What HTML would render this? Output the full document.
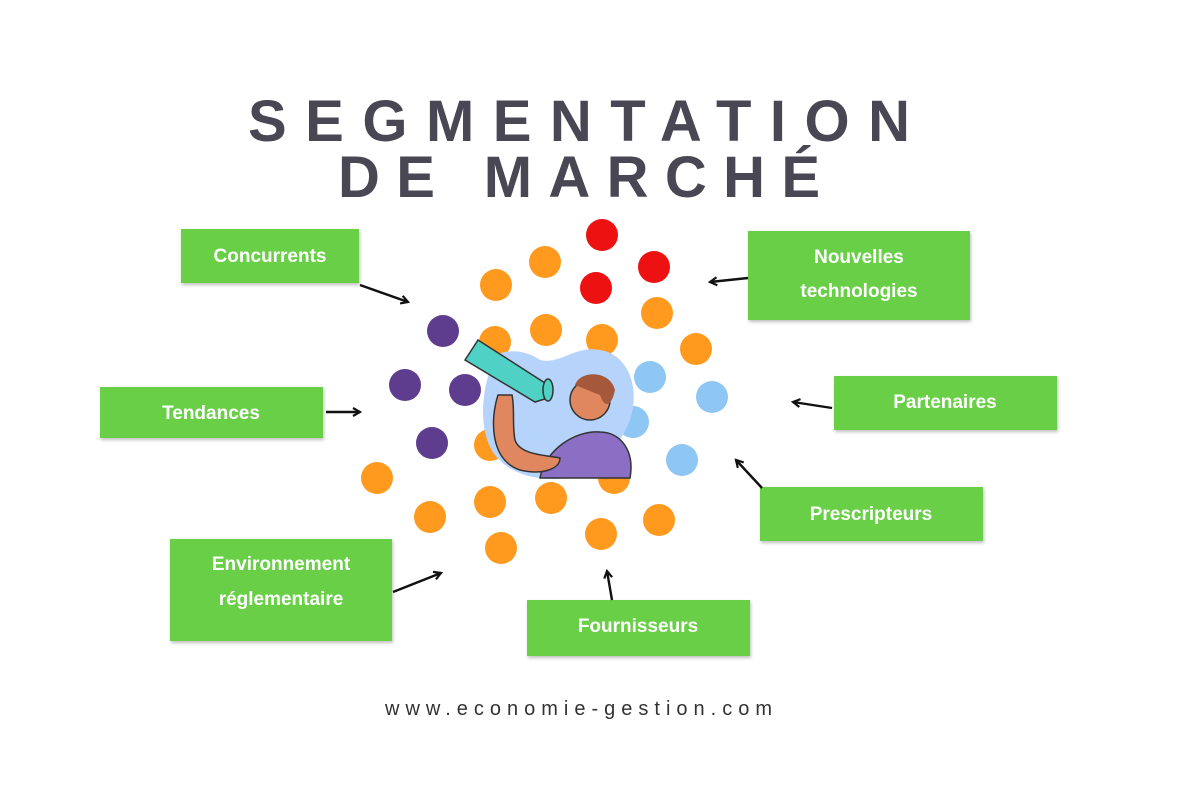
<!DOCTYPE html>
<html><head><meta charset="utf-8"><style>
body{margin:0;background:#fff}
svg{display:block}
.t{font-family:"Liberation Sans",sans-serif;font-weight:bold;fill:#4a4754}
.b{font-family:"Liberation Sans",sans-serif;font-weight:bold;fill:#fff;font-size:19px}
</style></head><body>
<svg width="1200" height="800" viewBox="0 0 1200 800">
<defs>
<marker id="ah" markerWidth="10" markerHeight="10" refX="8" refY="5" orient="auto" markerUnits="userSpaceOnUse">
<path d="M1,1 L8,5 L1,9" fill="none" stroke="#111" stroke-width="2.2"/></marker>
<filter id="sh"><feDropShadow dx="1" dy="2" stdDeviation="1.5" flood-opacity="0.25"/></filter>
</defs>
<rect width="1200" height="800" fill="#fff"/>
<text class="t" x="248" y="141" font-size="58" textLength="662" lengthAdjust="spacing">SEGMENTATION</text>
<text class="t" x="338" y="197" font-size="58" textLength="482" lengthAdjust="spacing">DE MARCHÉ</text>
<text x="385" y="715" font-family="Liberation Sans,sans-serif" font-size="20" fill="#333" textLength="387" lengthAdjust="spacing">www.economie-gestion.com</text>

<g fill="#ff9a1f">
<circle cx="545" cy="262" r="16"/><circle cx="496" cy="285" r="16"/><circle cx="546" cy="330" r="16"/>
<circle cx="657" cy="313" r="16"/><circle cx="602" cy="340" r="16"/><circle cx="696" cy="349" r="16"/>
<circle cx="495" cy="342" r="16"/><circle cx="377" cy="478" r="16"/><circle cx="430" cy="517" r="16"/>
<circle cx="490" cy="502" r="16"/><circle cx="551" cy="498" r="16"/><circle cx="614" cy="478" r="16"/>
<circle cx="659" cy="520" r="16"/><circle cx="501" cy="548" r="16"/><circle cx="601" cy="534" r="16"/>
<circle cx="490" cy="445" r="16"/>
</g>
<g fill="#ee1111"><circle cx="602" cy="235" r="16"/><circle cx="654" cy="267" r="16"/><circle cx="596" cy="288" r="16"/></g>
<g fill="#5e3d8f"><circle cx="443" cy="331" r="16"/><circle cx="405" cy="385" r="16"/><circle cx="432" cy="443" r="16"/><circle cx="465" cy="390" r="16"/></g>
<g fill="#8ec6f4"><circle cx="650" cy="377" r="16"/><circle cx="712" cy="397" r="16"/><circle cx="682" cy="460" r="16"/><circle cx="633" cy="422" r="16"/></g>

<!-- illustration -->
<path d="M490,370 C485,350 520,345 540,360 C560,365 575,345 600,350 C630,355 640,390 630,420 C620,445 600,470 570,478 C540,482 510,475 495,455 C480,435 480,400 490,370Z" fill="#b6d4fb"/>
<path d="M540,478 C545,450 575,430 600,432 C620,432 635,450 630,478 Z" fill="#8a6fc4" stroke="#333" stroke-width="1.5"/>
<path d="M498,395 C490,420 490,460 520,470 C540,475 560,470 560,458 C545,455 520,455 515,440 C512,425 515,410 512,395 Z" fill="#e0875f" stroke="#333" stroke-width="1.5"/>
<circle cx="590" cy="400" r="20" fill="#e0875f" stroke="#333" stroke-width="1.5"/>
<path d="M575,385 C580,370 610,370 615,390 C612,405 605,410 600,395 Z" fill="#a5593a"/>
<path d="M465,360 L478,340 L545,383 L548,398 L535,402 Z" fill="#4fd1c5" stroke="#333" stroke-width="1.5"/>
<ellipse cx="548" cy="390" rx="5" ry="11" fill="#4fd1c5" stroke="#333" stroke-width="1.5"/>

<g filter="url(#sh)" fill="#67cf47">
<rect x="181" y="229" width="178" height="54"/>
<rect x="748" y="231" width="222" height="89"/>
<rect x="100" y="387" width="223" height="51"/>
<rect x="834" y="376" width="223" height="54"/>
<rect x="760" y="487" width="223" height="54"/>
<rect x="170" y="539" width="222" height="102"/>
<rect x="527" y="600" width="223" height="56"/>
</g>
<g class="b" text-anchor="middle">
<text x="270" y="262">Concurrents</text>
<text x="859" y="263">Nouvelles</text><text x="859" y="297">technologies</text>
<text x="211" y="419">Tendances</text>
<text x="945" y="408">Partenaires</text>
<text x="871" y="520">Prescripteurs</text>
<text x="281" y="570">Environnement</text><text x="281" y="605">réglementaire</text>
<text x="638" y="632">Fournisseurs</text>
</g>
<g stroke="#111" stroke-width="2.4" marker-end="url(#ah)">
<line x1="360" y1="285" x2="408" y2="302"/>
<line x1="748" y1="278" x2="710" y2="282"/>
<line x1="326" y1="412" x2="360" y2="412"/>
<line x1="832" y1="408" x2="793" y2="402"/>
<line x1="762" y1="488" x2="736" y2="460"/>
<line x1="393" y1="592" x2="441" y2="573"/>
<line x1="612" y1="600" x2="607" y2="571"/>
</g>
</svg>
</body></html>
